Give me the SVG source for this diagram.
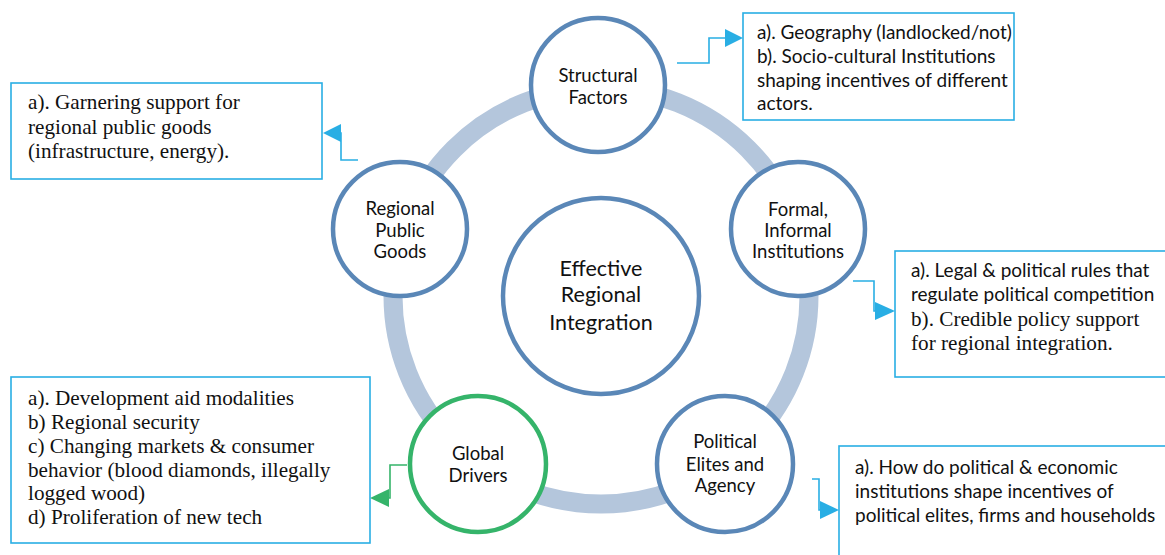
<svg xmlns="http://www.w3.org/2000/svg" width="1165" height="555" viewBox="0 0 1165 555">
  <style>
    .ring { fill: none; stroke: #b4c6dc; stroke-width: 19; }
    .node { fill: #ffffff; stroke: #5a87b7; stroke-width: 4.5; }
    .node.green { stroke: #35b46a; }
    .label { font-family: Lato, "Open Sans", sans-serif; font-size: 18.5px; fill: #111111; text-anchor: middle; }
    .core { font-size: 21.5px; }
    .box { fill: #ffffff; stroke: #29aee4; stroke-width: 1.6; }
    .note { font-family: Lato, "Open Sans", sans-serif; font-size: 19px; fill: #111111; }
    .serif { font-family: "Liberation Serif", "DejaVu Serif", serif; font-size: 21.2px; }
    .link { fill: none; stroke: #29aee4; stroke-width: 1.6; }
    .link.green { stroke: #35b46a; }
    .head { fill: #29aee4; }
    .head.green { fill: #35b46a; }
  </style>

  <!-- cycle band behind the nodes -->
  <circle class="ring" cx="601" cy="296" r="208"/>

  <!-- elbow connectors from nodes to note boxes -->
  <g id="connectors">
    <path class="link" d="M677,63 H709 V38 H726"/>
    <path class="link" d="M358,160 H341 V133 H340"/>
    <path class="link" d="M853,281 H874 V311 H876"/>
    <path class="link" d="M812,479 H819 V510 H821"/>
    <path class="link green" d="M407,465 H390 V498 H388"/>
    <!-- arrowheads -->
    <path class="head" d="M725,29 L743,38 L725,47 Z"/>
    <path class="head" d="M341,124 L323,133 L341,142 Z"/>
    <path class="head" d="M875,302 L895,311 L875,320 Z"/>
    <path class="head" d="M820,501 L839,510 L820,519 Z"/>
    <path class="head green" d="M389,489 L370,498 L389,507 Z"/>
  </g>

  <g id="node-core">
    <circle class="node" cx="601" cy="296" r="98"/>
    <text class="label core" x="601" y="276">Effective</text>
    <text class="label core" x="601" y="302">Regional</text>
    <text class="label core" x="601" y="330">Integration</text>
  </g>

  <g id="node-structural">
    <circle class="node" cx="598" cy="85" r="67"/>
    <text class="label" x="598" y="82">Structural</text>
    <text class="label" x="598" y="104">Factors</text>
  </g>

  <g id="node-public-goods">
    <circle class="node" cx="400" cy="229" r="67"/>
    <text class="label" x="400" y="215">Regional</text>
    <text class="label" x="400" y="237">Public</text>
    <text class="label" x="400" y="258">Goods</text>
  </g>

  <g id="node-institutions">
    <circle class="node" cx="798" cy="229" r="67"/>
    <text class="label" x="798" y="216">Formal,</text>
    <text class="label" x="798" y="237">Informal</text>
    <text class="label" x="798" y="258">Institutions</text>
  </g>

  <g id="node-global">
    <circle class="node green" cx="478" cy="464" r="68"/>
    <text class="label" x="478" y="460">Global</text>
    <text class="label" x="478" y="482">Drivers</text>
  </g>

  <g id="node-elites">
    <circle class="node" cx="725" cy="464" r="68"/>
    <text class="label" x="725" y="448">Political</text>
    <text class="label" x="725" y="471">Elites and</text>
    <text class="label" x="725" y="492">Agency</text>
  </g>

  <g id="note-structural">
    <rect class="box" x="743" y="13" width="271" height="107"/>
    <text class="note" x="757" y="39">a). Geography (landlocked/not)</text>
    <text class="note" x="757" y="63">b). Socio-cultural Institutions</text>
    <text class="note" x="757" y="87">shaping incentives of different</text>
    <text class="note" x="757" y="110">actors.</text>
  </g>

  <g id="note-public-goods">
    <rect class="box" x="11" y="83" width="311" height="96"/>
    <text class="note serif" x="28" y="109">a). Garnering support for</text>
    <text class="note serif" x="28" y="134">regional public goods</text>
    <text class="note serif" x="28" y="158">(infrastructure, energy).</text>
  </g>

  <g id="note-institutions">
    <rect class="box" x="895" y="251" width="275" height="126"/>
    <text class="note" x="911" y="277">a). Legal &amp; political rules that</text>
    <text class="note" x="911" y="301">regulate political competition</text>
    <text class="note serif" x="911" y="326">b). Credible policy support</text>
    <text class="note serif" x="911" y="350">for regional integration.</text>
  </g>

  <g id="note-global">
    <rect class="box" x="11" y="377" width="359" height="166"/>
    <text class="note serif" x="28" y="405">a). Development aid modalities</text>
    <text class="note serif" x="28" y="429">b) Regional security</text>
    <text class="note serif" x="28" y="453">c) Changing markets &amp; consumer</text>
    <text class="note serif" x="28" y="477">behavior (blood diamonds, illegally</text>
    <text class="note serif" x="28" y="500">logged wood)</text>
    <text class="note serif" x="28" y="524">d) Proliferation of new tech</text>
  </g>

  <g id="note-elites">
    <rect class="box" x="839" y="446" width="331" height="120"/>
    <text class="note" x="855" y="474">a). How do political &amp; economic</text>
    <text class="note" x="855" y="498">institutions shape incentives of</text>
    <text class="note" x="855" y="522">political elites, firms and households</text>
  </g>
</svg>
